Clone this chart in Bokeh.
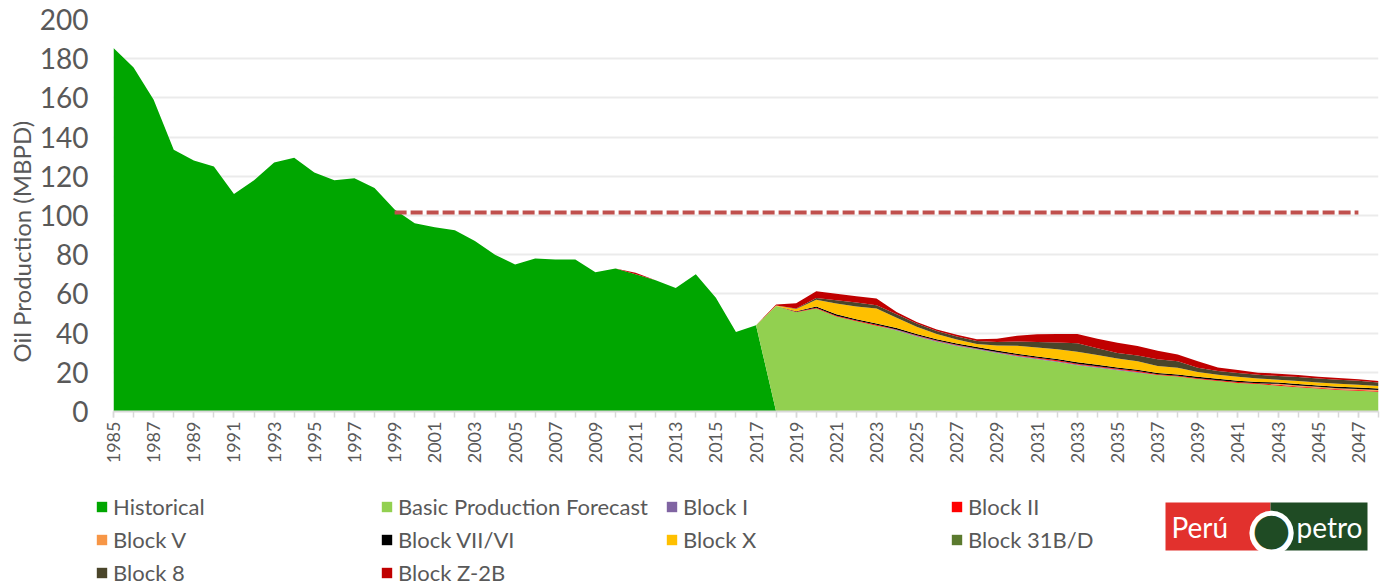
from math import pi
from bokeh.plotting import figure
from bokeh.layouts import column, row
from bokeh.models import (ColumnDataSource, Range1d, FixedTicker, Legend, LegendItem,
                          Label, BoxAnnotation)
from bokeh.embed import file_html
from bokeh.resources import INLINE

FONT = "Lato"
GREY = "#595959"

# ---------------- data ----------------
hist_years = list(range(1985, 2018))
historical = [185.5, 175.5, 159, 133.5, 128, 125, 111, 118, 127, 129.5, 122, 118, 119,
              114, 103, 96, 94, 92.5, 87, 80, 75, 78, 77.5, 77.5, 71, 73, 70, 67, 63,
              70, 58, 40.5, 44]

fc_years = list(range(2018, 2049))
basic = [53.8, 50.7, 52.5, 48.5, 46.0, 43.8, 41.3, 38.3, 35.6, 33.4, 31.6, 29.8, 28.0,
         26.6, 25.3, 23.6, 22.3, 21.0, 19.8, 18.6, 17.8, 16.6, 15.6, 14.6, 14.0, 13.2,
         12.4, 11.7, 11.0, 10.6, 10.1]
block_i = [0, 0, 0, 0, 0, 0, 0.4, 0.4, 0.4, 0.4, 0.4, 0.4, 0.4, 0.4, 0.4, 0.4, 0.4,
           0.4, 0.4, 0, 0, 0, 0, 0, 0, 0, 0, 0, 0, 0, 0]
block_ii = [0, 0.2, 0.4, 0.4, 0.4, 0.4, 0.2, 0.2, 0.2, 0.2, 0.2, 0.2, 0.4, 0.4, 0.4,
            0.4, 0.4, 0.4, 0.4, 0.4, 0.4, 0.4, 0.4, 0.4, 0.4, 0.4, 0.4, 0.4, 0.4, 0.4, 0.4]
block_v = [0, 0, 0, 0, 0, 0, 0, 0, 0, 0, 0, 0, 0, 0, 0, 0, 0, 0, 0, 0, 0, 0, 0, 0, 0,
           0.5, 0.5, 0.5, 0.5, 0.5, 0.5]
block_vii = [0, 0.2, 0.7, 0.7, 0.7, 0.7, 0.7, 0.7, 0.7, 0.7, 0.7, 0.7, 0.7, 0.7, 0.7,
             0.7, 0.7, 0.7, 0.7, 0.7, 0.7, 0.7, 0.7, 0.7, 0.7, 0.7, 0.7, 0.7, 0.7, 0.7, 0.7]
block_x = [0.3, 1.2, 3.4, 5.5, 6.5, 7.6, 5.2, 3.6, 2.6, 2.0, 1.6, 2.6, 4.0, 4.5, 5.0,
           5.4, 5.0, 4.5, 4.3, 3.5, 3.4, 2.5, 2.0, 2.0, 1.8, 1.4, 1.6, 1.5, 1.6, 1.5, 1.3]
block_31bd = [0, 0, 0, 0, 0, 0, 0, 0, 0, 0, 0, 0, 0, 0, 0, 0, 0, 0, 0, 0, 0, 0, 0, 0,
              0, 0, 0, 0, 0, 0, 0]
block_8 = [0, 0.3, 0.9, 1.7, 2.0, 1.7, 1.8, 1.7, 1.6, 1.6, 1.5, 1.8, 2.2, 2.8, 3.4,
           4.3, 3.5, 2.9, 3.0, 3.4, 3.4, 2.1, 2.0, 2.0, 1.8, 1.9, 2.0, 2.0, 2.0, 2.0, 1.8]
block_z2b = [0.5, 2.6, 3.4, 3.3, 3.2, 3.4, 1.2, 0.8, 0.8, 0.8, 0.8, 1.6, 3.0, 4.0, 4.4,
             4.8, 4.8, 5.2, 4.8, 4.4, 3.4, 3.4, 1.7, 1.5, 1.1, 1.2, 1.0, 0.9, 0.9, 0.8, 0.8]
z2b_hist_years = [2011]
z2b_hist = [0.8]

target_years = [1999, 2047]
target = [101.5, 101.5]

series_names = ["Historical", "Basic Production Forecast", "Block I", "Block II",
                "Block V", "Block VII/VI", "Block X", "Block 31B/D", "Block 8",
                "Block Z-2B"]
series_colors = ["#00A600", "#92D050", "#8064A2", "#FF0000", "#F79646", "#000000",
                 "#FFC000", "#5B7A2E", "#4A452A", "#C00000"]

years = list(range(1985, 2049))


def full(yrs, vals):
    d = dict(zip(yrs, vals))
    return [float(d.get(y, 0.0)) for y in years]


cols = {"year": years}
cols["Historical"] = full(hist_years, historical)
cols["Basic Production Forecast"] = full(fc_years, basic)
cols["Block I"] = full(fc_years, block_i)
cols["Block II"] = full(fc_years, block_ii)
cols["Block V"] = full(fc_years, block_v)
cols["Block VII/VI"] = full(fc_years, block_vii)
cols["Block X"] = full(fc_years, block_x)
cols["Block 31B/D"] = full(fc_years, block_31bd)
cols["Block 8"] = full(fc_years, block_8)
cols["Block Z-2B"] = full(z2b_hist_years + fc_years, z2b_hist + block_z2b)
src = ColumnDataSource(cols)

# ---------------- y-axis title strip ----------------
ft = figure(width=36, height=480, x_range=Range1d(0, 36), y_range=Range1d(480, 0),
            output_backend="svg", toolbar_location=None, x_axis_location=None,
            y_axis_location=None, min_border=0)
ft.outline_line_color = None
ft.grid.visible = False
ft.add_layout(Label(x=21, y=272, text="Oil Production (MBPD)", angle=pi / 2,
                    text_align="center", text_baseline="middle", text_font=FONT,
                    text_font_size="24px", text_color=GREY))

# ---------------- main chart ----------------
p = figure(width=1349, height=480, x_range=Range1d(1985, 2048), y_range=Range1d(0, 200),
           output_backend="svg", toolbar_location=None,
           min_border_left=77, min_border_right=7, min_border_top=19,
           min_border_bottom=69)
p.outline_line_color = None

renderers = p.varea_stack(stackers=series_names, x="year", color=series_colors,
                          source=src, fill_alpha=1.0)

p.line(target_years, target, line_color="#C0504D", line_width=4, line_dash="12 4")

p.xaxis.ticker = FixedTicker(ticks=list(range(1985, 2048, 2)),
                             minor_ticks=list(range(1985, 2049)))
p.xaxis.major_label_orientation = pi / 2
p.xaxis.axis_line_color = "#D9D9D9"
p.xaxis.axis_line_width = 2
p.xaxis.major_tick_line_color = "#D9D9D9"
p.xaxis.minor_tick_line_color = "#D9D9D9"
p.xaxis.major_tick_line_width = 1.5
p.xaxis.minor_tick_line_width = 1.5
p.xaxis.major_tick_out = 6
p.xaxis.minor_tick_out = 6
p.xaxis.major_tick_in = 0
p.xaxis.minor_tick_in = 0
p.xaxis.major_label_standoff = 4
p.xaxis.major_label_text_font = FONT
p.xaxis.major_label_text_font_size = "18px"
p.xaxis.major_label_text_color = GREY

p.yaxis.ticker = FixedTicker(ticks=list(range(0, 201, 20)))
p.yaxis.axis_line_color = None
p.yaxis.major_tick_line_color = None
p.yaxis.minor_tick_line_color = None
p.yaxis.major_label_standoff = 19
p.yaxis.major_label_text_font = FONT
p.yaxis.major_label_text_font_size = "28px"
p.yaxis.major_label_text_color = GREY

p.xgrid.visible = False
p.ygrid.grid_line_color = "#EBEBEB"
p.ygrid.grid_line_width = 2

# ---------------- legend + logo strip ----------------
fb = figure(width=1385, height=106, x_range=Range1d(0, 1385), y_range=Range1d(586, 480),
            output_backend="svg", toolbar_location=None, x_axis_location=None,
            y_axis_location=None, min_border=0)
fb.outline_line_color = None
fb.grid.visible = False

# legend swatch renderers (kept outside the visible range)
swatches = [fb.varea(x=[-60, -50], y1=[500, 500], y2=[510, 510], fill_color=c,
                     fill_alpha=1.0) for c in series_colors]
items = [LegendItem(label=n, renderers=[r]) for n, r in zip(series_names, swatches)]
legend = Legend(items=items, orientation="horizontal", ncols=4,
                location=(95, 0), padding=0, margin=0, spacing=6,
                glyph_width=13, glyph_height=13, label_standoff=5, label_width=261,
                label_text_font=FONT, label_text_font_size="22px",
                label_text_color=GREY,
                border_line_color=None, background_fill_alpha=0)
fb.add_layout(legend)

# Perupetro logo
fb.add_layout(BoxAnnotation(left=1165, right=1270, top=502, bottom=550,
                            fill_color="#E2312D", fill_alpha=1, line_color=None))
fb.add_layout(BoxAnnotation(left=1270, right=1367, top=502, bottom=550,
                            fill_color="#1F4B24", fill_alpha=1, line_color=None))
fb.add_layout(Label(x=1271, y=527, text="\u25CF", text_align="center",
                    text_baseline="middle", text_font="DejaVu Sans",
                    text_font_size="58px", text_color="white"))
fb.add_layout(Label(x=1271, y=528, text="\u25CF", text_align="center",
                    text_baseline="middle", text_font="DejaVu Sans",
                    text_font_size="44px", text_color="#1F4B24"))
fb.add_layout(Label(x=1171, y=526, text="Perú", text_align="left",
                    text_baseline="middle", text_font=FONT, text_font_size="28px",
                    text_color="white"))
fb.add_layout(Label(x=1296, y=526, text="petro", text_align="left",
                    text_baseline="middle", text_font=FONT, text_font_size="28px",
                    text_color="white"))

layout = column(row(ft, p), fb)
open("out.html", "w").write(file_html(layout, INLINE))
